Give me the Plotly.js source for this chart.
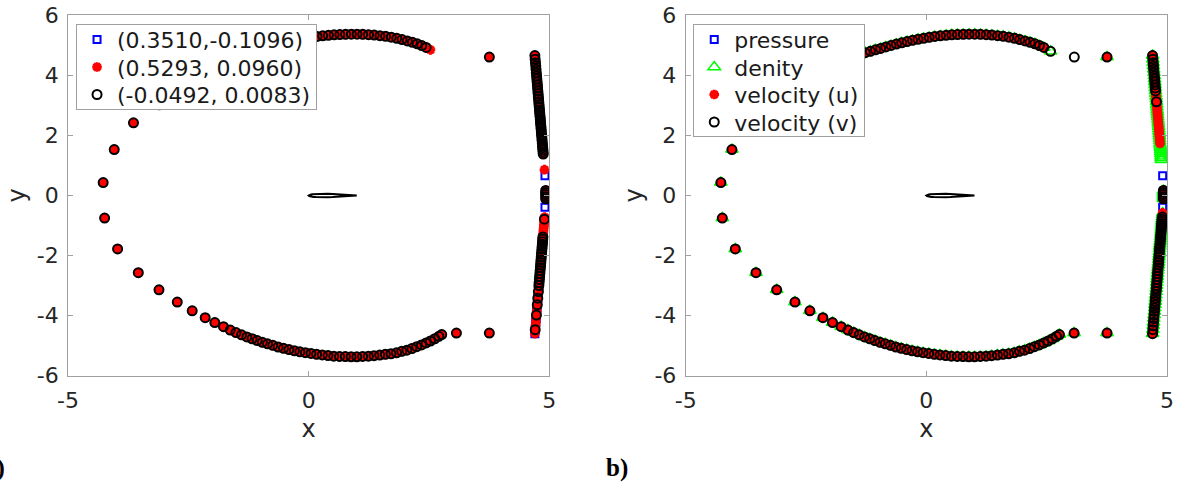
<!DOCTYPE html>
<html>
<head>
<meta charset="utf-8">
<script src="https://cdn.plot.ly/plotly-3.0.1.min.js"></script>
<style>
  html, body { margin: 0; padding: 0; background: #fff; }
  #plot { width: 1177px; height: 484px; }
</style>
</head>
<body>
<div id="plot"></div>
<script>
// Far-field C boundary, from the upper end round the front to the lower end
const arcX = [2.44, 2.35, 2.255, 2.155, 2.05, 1.94, 1.83, 1.715, 1.598, 1.48, 1.362, 1.243, 1.124, 1.005,
  0.886, 0.767, 0.648, 0.529, 0.41, 0.292, 0.175, 0.058, -0.058, -0.173, -0.287, -0.40, -0.512, -0.623,
  -0.733, -0.842, -0.95, -1.057, -1.163, -1.27, -1.38, -1.495, -1.615, -1.75, -1.92, -2.13, -2.39, -2.71,
  -3.10, -3.64, -4.04, -4.27, -4.24, -3.97, -3.54, -3.11, -2.73, -2.42, -2.15, -1.95, -1.77, -1.63, -1.51,
  -1.395, -1.285, -1.176, -1.07, -0.963, -0.855, -0.745, -0.635, -0.523, -0.41, -0.297, -0.183, -0.068,
  0.048, 0.165, 0.283, 0.402, 0.521, 0.641, 0.761, 0.881, 1.001, 1.121, 1.24, 1.358, 1.476, 1.593, 1.71,
  1.825, 1.935, 2.04, 2.145, 2.245, 2.345, 2.44, 2.53, 2.62, 2.705, 2.765];
const arcY = [4.93, 4.99, 5.05, 5.10, 5.145, 5.19, 5.235, 5.27, 5.30, 5.32, 5.34, 5.355, 5.365, 5.37,
  5.37, 5.365, 5.36, 5.35, 5.335, 5.315, 5.295, 5.265, 5.235, 5.20, 5.165, 5.125, 5.085, 5.04,
  4.995, 4.945, 4.895, 4.85, 4.80, 4.755, 4.69, 4.62, 4.53, 4.42, 4.28, 4.10, 3.85, 3.50,
  3.02, 2.42, 1.53, 0.43, -0.75, -1.78, -2.57, -3.14, -3.55, -3.84, -4.07, -4.23, -4.37, -4.48, -4.565,
  -4.64, -4.71, -4.77, -4.83, -4.89, -4.94, -4.99, -5.045, -5.09, -5.13, -5.17, -5.205, -5.235,
  -5.26, -5.29, -5.31, -5.33, -5.35, -5.36, -5.365, -5.37, -5.37, -5.36, -5.35, -5.335, -5.315, -5.29, -5.27,
  -5.24, -5.19, -5.15, -5.095, -5.035, -4.975, -4.91, -4.845, -4.77, -4.69, -4.63];

// Outflow column above the wake
const colTopX = [4.700, 4.706, 4.713, 4.719, 4.724, 4.730, 4.736, 4.741, 4.747, 4.752, 4.757, 4.762,
  4.767, 4.772, 4.777, 4.781, 4.786, 4.791, 4.796, 4.800, 4.804, 4.809, 4.813, 4.817, 4.821, 4.826,
  4.830, 4.834, 4.838, 4.843, 4.847, 4.851, 4.855, 4.859, 4.863, 4.867, 4.870, 4.874, 4.878, 4.881, 4.884];
const colTopY = [4.66, 4.54, 4.42, 4.31, 4.20, 4.09, 3.98, 3.88, 3.78, 3.68, 3.58, 3.48,
  3.39, 3.30, 3.21, 3.12, 3.03, 2.94, 2.85, 2.77, 2.69, 2.61, 2.53, 2.45, 2.37, 2.29,
  2.21, 2.13, 2.05, 1.97, 1.89, 1.81, 1.73, 1.66, 1.59, 1.52, 1.45, 1.38, 1.31, 1.25, 1.19];

// Outflow column below the wake
const colBotX = [4.909, 4.905, 4.902, 4.898, 4.894, 4.891, 4.887, 4.884, 4.880, 4.876, 4.872, 4.867,
  4.863, 4.859, 4.855, 4.851, 4.847, 4.842, 4.837, 4.833, 4.828, 4.823, 4.819, 4.814, 4.809, 4.804,
  4.799, 4.794, 4.788, 4.783, 4.778, 4.773, 4.767, 4.761, 4.756, 4.750, 4.744, 4.738, 4.732, 4.726,
  4.720, 4.714, 4.707, 4.700];
const colBotY = [-0.58, -0.65, -0.72, -0.79, -0.86, -0.93, -1.00, -1.07, -1.14, -1.22, -1.30, -1.38,
  -1.46, -1.54, -1.62, -1.70, -1.78, -1.87, -1.96, -2.05, -2.14, -2.23, -2.32, -2.41, -2.50, -2.60,
  -2.70, -2.80, -2.90, -3.00, -3.10, -3.20, -3.31, -3.42, -3.53, -3.64, -3.75, -3.86, -3.98, -4.10,
  -4.22, -4.34, -4.47, -4.60];

// Wake cut points
const wakeX = [4.925, 4.925, 4.925, 4.925, 4.925];
const wakeY = [0.17, 0.10, 0.03, -0.04, -0.11];

// Corner points between the arcs and the outflow column
const cornerTopX = [3.754], cornerTopY = [4.61];
const cornerOpenX = [3.074], cornerOpenY = [4.61];
const cornerBotX = [3.07, 3.754], cornerBotY = [-4.58, -4.58];
const tipLX = [2.53], tipLY = [4.85];
const tipRX = [2.58], tipRY = [4.80];
const loneStarX = [4.90], loneStarY = [0.86];
const pressureX = [4.91, 4.91], pressureY = [0.66, -0.39];

// NACA 0012 section, chord 1
const foilX = [1.0, 0.95, 0.9, 0.8, 0.7, 0.6, 0.5, 0.4, 0.3, 0.25, 0.2, 0.15, 0.1, 0.075, 0.05, 0.025, 0.0125, 0.0,
  0.0125, 0.025, 0.05, 0.075, 0.1, 0.15, 0.2, 0.25, 0.3, 0.4, 0.5, 0.6, 0.7, 0.8, 0.9, 0.95, 1.0];
const foilY = [0.00126, 0.00807, 0.01448, 0.02623, 0.03664, 0.04563, 0.05294, 0.05803, 0.06002, 0.05941,
  0.05737, 0.05345, 0.04683, 0.04200, 0.03555, 0.02615, 0.01894, 0.0,
  -0.01894, -0.02615, -0.03555, -0.04200, -0.04683, -0.05345, -0.05737, -0.05941, -0.06002, -0.05803,
  -0.05294, -0.04563, -0.03664, -0.02623, -0.01448, -0.00807, -0.00126];

const labelsA = ['(0.3510,-0.1096)', '(0.5293, 0.0960)', '(-0.0492, 0.0083)'];
const labelsB = ['pressure', 'denity', 'velocity (u)', 'velocity (v)'];

const xTickVals = [-5, 0, 5];
const xTickText = ['-5', '0', '5'];
const yTickVals = [-6, -4, -2, 0, 2, 4, 6];
const yTickText = ['-6', '-4', '-2', '0', '2', '4', '6'];

// Collect points from named arrays; each part is [xs, ys, ranges] with inclusive index ranges
function gather(parts) {
  const x = [], y = [];
  parts.forEach(([xs, ys, ranges]) => {
    const rs = ranges || [[0, xs.length - 1]];
    rs.forEach(([a, b]) => { for (let i = a; i <= b; i++) { x.push(xs[i]); y.push(ys[i]); } });
  });
  return { x, y };
}

const FONT = 'DejaVu Sans, Verdana, sans-serif';
const mk = {
  square: { symbol: 'square-open', size: 7, color: '#0000ff', line: { color: '#0000ff', width: 2 } },
  star: { symbol: 'asterisk-open', size: 8, color: '#ff0000', line: { color: '#ff0000', width: 3 } },
  circle: { symbol: 'circle-open', size: 9, color: '#000000', line: { color: '#000000', width: 2 } },
  tri: { symbol: 'triangle-up-open', size: 11, color: '#00ff00', line: { color: '#00ff00', width: 1.5 } }
};

function pts(name, data, marker, xa, ya, legend) {
  return { type: 'scatter', mode: 'markers', name, x: data.x, y: data.y, marker,
    xaxis: xa, yaxis: ya, legend, showlegend: true, hoverinfo: 'skip', cliponaxis: true };
}
function foil(xa, ya) {
  return { type: 'scatter', mode: 'lines', x: foilX, y: foilY, xaxis: xa, yaxis: ya,
    line: { color: '#000', width: 2 }, showlegend: false, hoverinfo: 'skip' };
}

// panel a
const aSquares = gather([[pressureX, pressureY], [colBotX, colBotY, [[29, 43]]]]);
const aStars = gather([[arcX, arcY], [tipLX, tipLY], [cornerTopX, cornerTopY], [colTopX, colTopY, [[0, 37]]],
  [loneStarX, loneStarY], [wakeX, wakeY], [colBotX, colBotY, [[2, 43]]], [cornerBotX, cornerBotY]]);
const aCircles = gather([[arcX, arcY], [cornerTopX, cornerTopY], [colTopX, colTopY, [[0, 37]]],
  [wakeX, wakeY], [colBotX, colBotY, [[3, 3], [11, 29], [31, 31], [33, 33], [35, 35], [38, 38], [42, 42]]],
  [cornerBotX, cornerBotY]]);

// panel b
const bSquares = gather([[pressureX, pressureY]]);
const bTri = gather([[arcX, arcY], [tipRX, tipRY], [cornerTopX, cornerTopY], [colTopX, colTopY, [[0, 40]]],
  [wakeX, wakeY], [colBotX, colBotY], [cornerBotX, cornerBotY]]);
const bStars = gather([[arcX, arcY], [cornerTopX, cornerTopY], [colTopX, colTopY, [[0, 32]]],
  [wakeX, wakeY], [colBotX, colBotY], [cornerBotX, cornerBotY]]);
const bCircles = gather([[arcX, arcY], [tipRX, tipRY], [cornerOpenX, cornerOpenY], [cornerTopX, cornerTopY],
  [colTopX, colTopY, [[0, 11], [15, 15]]], [wakeX, wakeY], [colBotX, colBotY, [[2, 43]]], [cornerBotX, cornerBotY]]);

const traces = [
  foil('x', 'y'),
  pts(labelsA[0], aSquares, mk.square, 'x', 'y', 'legend'),
  pts(labelsA[1], aStars, mk.star, 'x', 'y', 'legend'),
  pts(labelsA[2], aCircles, mk.circle, 'x', 'y', 'legend'),
  foil('x2', 'y2'),
  pts(labelsB[0], bSquares, mk.square, 'x2', 'y2', 'legend2'),
  pts(labelsB[1], bTri, mk.tri, 'x2', 'y2', 'legend2'),
  pts(labelsB[2], bStars, mk.star, 'x2', 'y2', 'legend2'),
  pts(labelsB[3], bCircles, mk.circle, 'x2', 'y2', 'legend2')
];

const frame = '#a0a0a0';
const ink = '#262626';
function axis(extra) {
  return Object.assign({
    showline: true, linecolor: frame, linewidth: 1, mirror: 'ticks',
    ticks: 'inside', ticklen: 5, tickcolor: frame, tickwidth: 1,
    showgrid: false, zeroline: false, automargin: false, fixedrange: true,
    tickfont: { family: FONT, size: 22, color: ink }
  }, extra);
}
const titleFont = { family: FONT, size: 24, color: ink };
const xAxisBase = { range: [-5, 5], tickmode: 'array', tickvals: xTickVals, ticktext: xTickText,
  ticklabelstandoff: 5, title: { text: 'x', font: titleFont, standoff: 8 } };
const yAxisBase = { range: [-6, 6], tickmode: 'array', tickvals: yTickVals, ticktext: yTickText,
  ticklabelstandoff: 4, title: { text: 'y', font: titleFont, standoff: 4 } };
const yDom = [0.2238, 0.9684];

function legendAt(x) {
  return { x, y: 0.9504, xanchor: 'left', yanchor: 'top', bgcolor: '#ffffff',
    bordercolor: frame, borderwidth: 1, tracegroupgap: 0,
    font: { family: FONT, size: 22, color: '#1a1a1a' } };
}

const layout = {
  width: 1177, height: 484,
  margin: { l: 0, r: 0, t: 0, b: 0 },
  paper_bgcolor: '#ffffff', plot_bgcolor: '#ffffff',
  showlegend: true,
  xaxis: axis(Object.assign({ domain: [0.0578, 0.4667], anchor: 'y' }, xAxisBase)),
  yaxis: axis(Object.assign({ domain: yDom, anchor: 'x' }, yAxisBase)),
  xaxis2: axis(Object.assign({ domain: [0.5826, 0.9915], anchor: 'y2' }, xAxisBase)),
  yaxis2: axis(Object.assign({ domain: yDom, anchor: 'x2' }, yAxisBase)),
  legend: legendAt(0.0646),
  legend2: legendAt(0.589),
  annotations: [
    { text: '<b>a)</b>', xref: 'paper', yref: 'paper', x: 7 / 1177, y: 0.033, xanchor: 'right', yanchor: 'middle',
      showarrow: false, font: { family: 'Liberation Serif, Times New Roman, serif', size: 25, color: '#000' } },
    { text: '<b>b)</b>', xref: 'paper', yref: 'paper', x: 604 / 1177, y: 0.033, xanchor: 'left', yanchor: 'middle',
      showarrow: false, font: { family: 'Liberation Serif, Times New Roman, serif', size: 25, color: '#000' } }
  ]
};

// Tighter legend rows: first row centre 15.5 px below the box top, 27.5 px between rows
function tightenLegends() {
  const ROW = 27.5, FIRST = 15.5, TAIL = 14;
  document.querySelectorAll('g.infolayer > g').forEach(g => {
    const cls = g.getAttribute('class') || '';
    if (!/^legend\d*$/.test(cls)) return;
    const items = g.querySelectorAll('g.traces');
    items.forEach((it, i) => {
      const m = /translate\(\s*([-\d.]+)[ ,]+([-\d.]+)\s*\)/.exec(it.getAttribute('transform') || '');
      const x0 = m ? m[1] : 0;
      it.setAttribute('transform', `translate(${x0},${FIRST + i * ROW})`);
    });
    const bg = g.querySelector('rect.bg');
    if (bg && items.length) bg.setAttribute('height', FIRST + (items.length - 1) * ROW + TAIL);
  });
}

Plotly.newPlot('plot', traces, layout, { displayModeBar: false, staticPlot: true }).then(tightenLegends);
</script>
</body>
</html>
